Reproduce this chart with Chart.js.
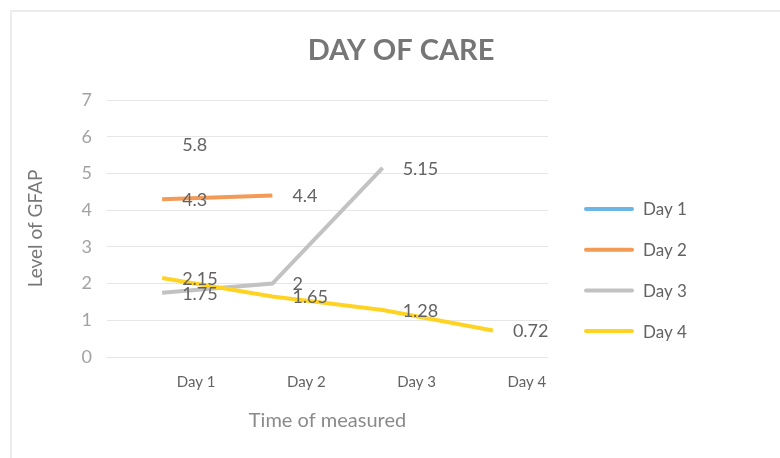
<!DOCTYPE html>
<html>
<head>
<meta charset="utf-8">
<script src="https://cdn.jsdelivr.net/npm/chart.js@4.4.0/dist/chart.umd.min.js"></script>
<style>
  html, body { margin: 0; padding: 0; background: #ffffff; }
  #wrap { position: relative; width: 780px; height: 458px; overflow: hidden; }
  #frame {
    position: absolute; left: 10px; top: 10px; width: 800px; height: 500px;
    border-left: 2px solid #ececec; border-top: 2px solid #ececec;
    pointer-events: none;
  }
  canvas { position: absolute; left: 0; top: 0; }
</style>
</head>
<body>
<div id="wrap">
  <div id="frame"></div>
  <canvas id="gfapChart" width="780" height="458"></canvas>
</div>
<script>
  // categories on the x axis
  const days = ['Day 1', 'Day 2', 'Day 3', 'Day 4'];

  // series values (level of GFAP)
  const day1Values = [5.8, null, null, null];
  const day2Values = [4.3, 4.4, null, null];
  const day3Values = [1.75, 2, 5.15, null];
  const day4Values = [2.15, 1.65, 1.28, 0.72];

  const seriesNames = ['Day 1', 'Day 2', 'Day 3', 'Day 4'];
  const seriesColors = ['#6cb6e6', '#f39a56', '#c2c2c2', '#ffd324'];

  // y axis ticks
  const yTicks = [0, 1, 2, 3, 4, 5, 6, 7];

  const chartTitle = 'DAY OF CARE';
  const FONT = 'Lato, "Open Sans", sans-serif';

  // title centred on the whole picture, not just on the plot
  const pageTitlePlugin = {
    id: 'pageTitle',
    afterDraw(chart) {
      const ctx = chart.ctx;
      ctx.save();
      ctx.font = 'bold 29px ' + FONT;
      ctx.fillStyle = '#767676';
      ctx.textAlign = 'center';
      ctx.textBaseline = 'middle';
      ctx.fillText(chartTitle, 401, 51);
      ctx.restore();
    }
  };

  // value labels, drawn to the right of each point (like Excel's "Right" position)
  const valueLabelPlugin = {
    id: 'valueLabels',
    afterDatasetsDraw(chart) {
      const ctx = chart.ctx;
      ctx.save();
      ctx.font = '18px ' + FONT;
      ctx.fillStyle = '#636363';
      ctx.textAlign = 'left';
      ctx.textBaseline = 'middle';
      chart.data.datasets.forEach((ds, i) => {
        const meta = chart.getDatasetMeta(i);
        ds.data.forEach((v, j) => {
          if (v === null) return;
          const pt = meta.data[j];
          ctx.fillText(String(v), pt.x + 20, pt.y + 1);
        });
      });
      ctx.restore();
    }
  };

  // legend on the right, line samples like Excel's
  const sideLegendPlugin = {
    id: 'sideLegend',
    afterDraw(chart) {
      const ctx = chart.ctx;
      const x0 = chart.chartArea.right + 36;
      const top = 209;
      const step = 40.7;
      ctx.save();
      ctx.font = '17px ' + FONT;
      ctx.textBaseline = 'middle';
      ctx.textAlign = 'left';
      chart.data.datasets.forEach((ds, i) => {
        const y = top + i * step;
        ctx.strokeStyle = ds.borderColor;
        ctx.lineWidth = 4;
        ctx.lineCap = 'round';
        ctx.beginPath();
        ctx.moveTo(x0 + 2, y);
        ctx.lineTo(x0 + 48, y);
        ctx.stroke();
        ctx.fillStyle = '#636363';
        ctx.fillText(ds.label, x0 + 59, y + 1);
      });
      ctx.restore();
    }
  };

  const valueSets = [day1Values, day2Values, day3Values, day4Values];
  const datasets = valueSets.map((vals, i) => ({
    label: seriesNames[i],
    data: vals,
    borderColor: seriesColors[i],
    backgroundColor: seriesColors[i],
    borderWidth: 4,
    pointRadius: 0,
    pointHoverRadius: 0,
    tension: 0,
    spanGaps: false,
    order: valueSets.length - i  // later series drawn on top, as in Excel
  }));

  const config = {
    type: 'line',
    data: { labels: days, datasets: datasets },
    plugins: [pageTitlePlugin, valueLabelPlugin, sideLegendPlugin],
    options: {
      responsive: false,
      animation: false,
      layout: { padding: { left: 20, right: 232, top: 100, bottom: 25 } },
      plugins: {
        legend: { display: false },
        tooltip: { enabled: false },
        title: { display: false }
      },
      scales: {
        x: {
          offset: true,
          grid: { display: false },
          border: { display: false },
          ticks: {
            color: '#636363',
            font: { family: FONT, size: 15 },
            padding: 8,
            labelOffset: 34,
            maxRotation: 0
          },
          title: {
            display: true,
            text: 'Time of measured',
            color: '#8a8a8a',
            font: { family: FONT, size: 20 },
            padding: { top: 10, bottom: 0 }
          }
        },
        y: {
          min: yTicks[0],
          max: yTicks[yTicks.length - 1],
          afterBuildTicks(scale) {
            scale.ticks = yTicks.map(v => ({ value: v }));
          },
          afterFit(scale) {
            scale.width = 87;
          },
          grid: { color: '#e6e6e6', lineWidth: 1, drawTicks: false },
          border: { display: false },
          ticks: {
            color: '#a3a3a3',
            font: { family: FONT, size: 18 },
            padding: 15
          },
          title: {
            display: true,
            text: 'Level of GFAP',
            color: '#777777',
            font: { family: FONT, size: 19 },
            padding: { top: 4, bottom: 0 }
          }
        }
      }
    }
  };

  new Chart(document.getElementById('gfapChart'), config);
</script>
</body>
</html>
